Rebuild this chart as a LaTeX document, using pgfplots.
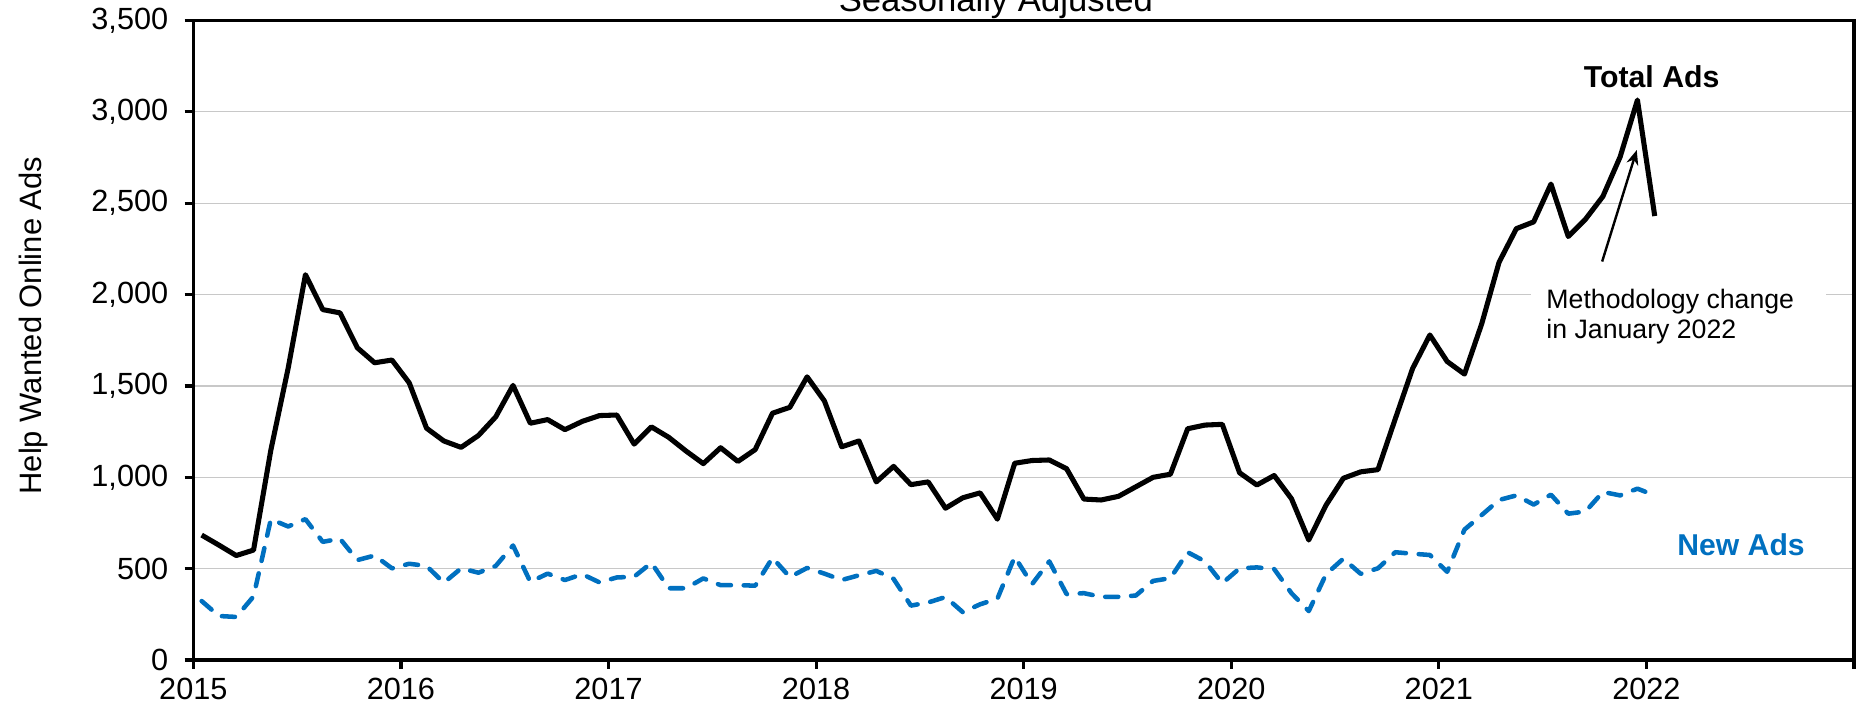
\documentclass[border=0pt]{standalone}
\usepackage{pgfplots}
\pgfplotsset{compat=1.18}
\usepackage{pgfplotstable}
\usepackage{fontspec}
\setmainfont{Liberation Sans}
\usetikzlibrary{arrows.meta}
\definecolor{newblue}{RGB}{0,112,192}
\definecolor{gridgray}{RGB}{200,200,200}

\pgfplotstableread{
m total new
0 684 323
1 629 241
2 572 236
3 602 348
4 1149 771
5 1597 731
6 2109 771
7 1918 647
8 1900 664
9 1709 547
10 1627 572
11 1642 502
12 1517 527
13 1269 515
14 1199 423
15 1164 502
16 1229 478
17 1331 515
18 1503 627
19 1296 428
20 1316 473
21 1261 438
22 1306 470
23 1338 425
24 1341 452
25 1182 456
26 1276 532
27 1219 393
28 1144 393
29 1075 447
30 1162 410
31 1087 410
32 1152 407
33 1351 560
34 1383 454
35 1550 504
36 1418 473
37 1167 438
38 1199 464
39 975 488
40 1060 444
41 960 298
42 975 315
43 831 345
44 888 262
45 915 305
46 771 336
47 1077 565
48 1092 415
49 1095 540
50 1047 361
51 881 366
52 876 346
53 896 346
54 948 353
55 1000 433
56 1017 448
57 1266 590
58 1286 540
59 1290 420
60 1025 502
61 958 507
62 1010 498
63 883 366
64 657 268
65 848 470
66 995 555
67 1030 472
68 1042 502
69 1320 590
70 1595 582
71 1779 575
72 1634 483
73 1565 714
74 1841 794
75 2177 876
76 2361 901
77 2398 851
78 2605 905
79 2318 801
80 2413 813
81 2537 920
82 2754 901
83 3065 938
84 2430 901
}\adsdata

\begin{document}
\begin{tikzpicture}
\begin{axis}[
  name=ax,
  scale only axis,
  width=622.7pt, height=239.8pt,
  xmin=0, xmax=96, ymin=0, ymax=3500,
  xtick={0,12,...,96},
  xticklabels={2015,2016,2017,2018,2019,2020,2021,2022,{}},
  ytick={0,500,...,3500},
  tick pos=left,
  tick align=outside,
  major tick length=3.3pt,
  axis line style={line width=1.35pt, black},
  tick style={line width=1.2pt, black},
  ymajorgrids,
  grid style={line width=0.45pt, gridgray},
  ticklabel style={font=\fontsize{11.5}{13}\selectfont},
  yticklabel style={xshift=-2.6pt, /pgf/number format/.cd, 1000 sep={,}, assume math mode=true},
  clip=false,
]
\fill[white] (axis cs:77.3,1940) rectangle (axis cs:94.4,2060);
\addplot[newblue, line width=1.7pt, line cap=round, line join=round, dash pattern=on 4.9pt off 4.8pt]
  table[x expr=\thisrow{m}+0.48, y=new] {\adsdata};
\addplot[black, line width=1.9pt, line join=round]
  table[x expr=\thisrow{m}+0.48, y=total] {\adsdata};
\node[anchor=base, font=\bfseries\fontsize{11.35}{13}\selectfont] at (axis cs:84.3,3136) {Total Ads};
\node[anchor=base, font=\bfseries\fontsize{11.3}{13}\selectfont, text=newblue] at (axis cs:89.47,571) {New Ads};
\node[anchor=base west, inner sep=0pt, font=\fontsize{10}{12}\selectfont] at (axis cs:78.19,1926) {Methodology change};
\node[anchor=base west, inner sep=0pt, font=\fontsize{10}{12}\selectfont] at (axis cs:78.19,1762) {in January 2022};
\draw[line width=0.9pt, -{Stealth[length=5.5pt, width=4.5pt]}] (axis cs:81.44,2181) -- (axis cs:83.44,2791);
\end{axis}
\node[anchor=base, font=\fontsize{13}{15}\selectfont] at ([shift={(300.9pt,243.2pt)}]ax.south west) {Seasonally Adjusted};
\node[rotate=90, font=\fontsize{11.6}{13}\selectfont] at ([shift={(-59.9pt,125.4pt)}]ax.south west) {Help Wanted Online Ads};
\pgfresetboundingbox
\path[use as bounding box] ([shift={(-72.5pt,-19.2pt)}]ax.south west) rectangle ([shift={(2.25pt,7.7pt)}]ax.north east);
\end{tikzpicture}
\end{document}
